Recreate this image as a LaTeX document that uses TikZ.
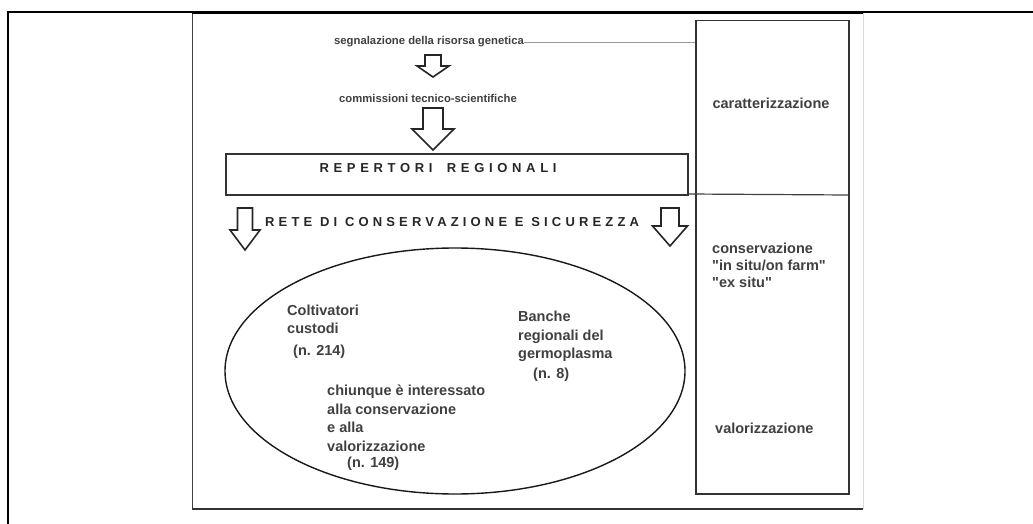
\documentclass[tikz,border=0pt]{standalone}
\usepackage{fontspec}
\setmainfont{Liberation Sans}
\usetikzlibrary{shapes.geometric}
\newcommand\DownBlockArrow[7]{% cx, top, headstart, tip, shaft half, head half, name
  \draw[barrow] ({#1-#5},#2) -- ({#1+#5},#2) -- ({#1+#5},#3) -- ({#1+#6},#3) -- (#1,#4)
    -- ({#1-#6},#3) -- ({#1-#5},#3) -- cycle;
  \coordinate (#7) at (#1,#4);}
\begin{document}
\begin{tikzpicture}[x=1pt,y=-1pt,
  barrow/.style={draw=black!85, line width=1.6pt, fill=white, line join=miter},
  small/.style={font=\fontsize{11.3}{14}\selectfont\bfseries, text=black!75, inner sep=0pt},
  body/.style={font=\fontsize{14.5}{18.5}\selectfont\bfseries, text=black!75, inner sep=0pt, align=left},
  caps/.style={font=\fontsize{13}{15}\selectfont\bfseries\addfontfeature{LetterSpace=#1}, text=black!85, inner sep=0pt},
  caps/.default=36,
  boxline/.style={draw=black!80, line width=1.5pt}]
\useasboundingbox (0,0) rectangle (1033,524);
% table cell lines
\draw[line width=2pt] (7.5,524) -- (7.5,12) -- (1033,12);
% inner frame
\draw[draw=black!75, line width=1pt] (192,13) -- (192,509);
\draw[draw=black!15, line width=1pt] (863,13) -- (863,509);
\draw[line width=2.8pt] (192,13) -- (863,13);
\draw[draw=black!80, line width=2.3pt] (192,509) -- (863,509);
% right column box
\node[boxline, draw, minimum width=153pt, minimum height=473pt, anchor=north west, inner sep=0pt] (col) at (695,20) {};
\coordinate (divR) at (848,195);
% top texts
\node[small] (segn) at (429,42) {segnalazione della risorsa genetica};
\draw[draw=black!40, line width=1pt] (segn.east) ++(0,1) -- (col.west |- 0,43);
\DownBlockArrow{433}{55}{66}{77}{8}{16}{a1}
\node[small] (comm) at (428,98) {commissioni tecnico-scientifiche};
\DownBlockArrow{433}{108}{129}{150}{10}{21}{a2}
% repertori
\node[boxline, draw, minimum width=462pt, minimum height=41pt, anchor=north west, inner sep=0pt] (rep) at (225,153) {};
\node[caps] (reptxt) at (438,168) {REPERTORI\hspace{6pt} REGIONALI};
\draw[draw=black!75, line width=1.2pt] (rep.east |- 0,194) -- (divR);
% rete
\node[caps=32, anchor=west] (rete) at (265,222) {RETE DI CONSERVAZIONE E SICUREZZA};
\DownBlockArrow{245}{208}{230}{250}{7.5}{15}{a3}
\DownBlockArrow{670}{208}{226}{246}{9}{17.5}{a4}
% ellipse
\node[ellipse, draw=black!90, line width=1.4pt, minimum width=460pt, minimum height=246pt, inner sep=0pt] (ell) at (455,371) {};
\node[body, anchor=base west] (colt) at (287,355) {Coltivatori\\custodi\\[3pt]\hspace*{6pt}(n. 214)};
\node[body, anchor=base west] (banche) at (518,378) {Banche\\regionali del\\germoplasma\\[1pt]\hspace*{15pt}(n. 8)};
\node[body, anchor=base west] (chi) at (327,467) {chiunque è interessato\\alla conservazione\\e alla\\valorizzazione\\[-2.5pt]\hspace*{20pt}(n. 149)};
% right column texts
\node[body] (car) at (771,103) {caratterizzazione};
\node[body, anchor=base west, font=\fontsize{14.5}{17}\selectfont\bfseries] (cons) at (712,287) {conservazione\\\textquotedbl in situ/on farm\textquotedbl\\\textquotedbl ex situ\textquotedbl};
\node[body, anchor=base west] (val) at (715,433) {valorizzazione};
\end{tikzpicture}
\end{document}
